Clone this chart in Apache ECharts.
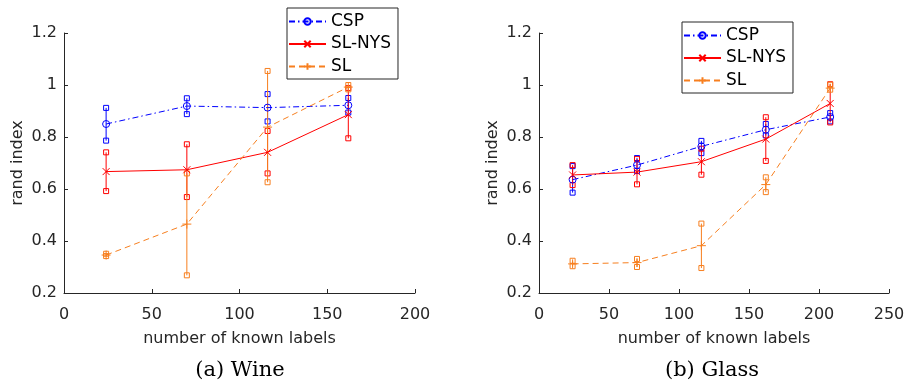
<!DOCTYPE html>
<html>
<head>
<meta charset="utf-8">
<script src="https://cdn.jsdelivr.net/npm/echarts@6/dist/echarts.min.js"></script>
<style>html,body{margin:0;padding:0;background:#fff;}#c{width:909px;height:385px;}</style>
</head>
<body>
<div id="c"></div>
<script>
// ---- Data ----
var seriesNames = ['CSP', 'SL-NYS', 'SL'];
var xTicksWine = [0, 50, 100, 150, 200];
var xTicksGlass = [0, 50, 100, 150, 200, 250];
var yTicks = [0.2, 0.4, 0.6, 0.8, 1, 1.2];

var wineX = [24, 70, 116, 162];
var wineCSP = [0.850, 0.919, 0.913, 0.922];
var wineCSPLo = [0.786, 0.888, 0.860, 0.894];
var wineCSPHi = [0.912, 0.949, 0.965, 0.950];
var wineNYS = [0.667, 0.674, 0.741, 0.886];
var wineNYSLo = [0.592, 0.569, 0.660, 0.795];
var wineNYSHi = [0.741, 0.772, 0.823, 0.988];
var wineSL = [0.346, 0.465, 0.838, 0.992];
var wineSLLo = [0.342, 0.268, 0.626, 0.983];
var wineSLHi = [0.351, 0.660, 1.054, 1.000];

var glassX = [24, 70, 116, 162, 208];
var glassCSP = [0.636, 0.692, 0.764, 0.828, 0.877];
var glassCSPLo = [0.586, 0.669, 0.738, 0.806, 0.860];
var glassCSPHi = [0.688, 0.719, 0.785, 0.850, 0.892];
var glassNYS = [0.654, 0.665, 0.705, 0.792, 0.929];
var glassNYSLo = [0.615, 0.618, 0.655, 0.708, 0.856];
var glassNYSHi = [0.692, 0.715, 0.755, 0.876, 1.003];
var glassSL = [0.312, 0.317, 0.382, 0.617, 0.988];
var glassSLLo = [0.303, 0.300, 0.296, 0.588, 0.982];
var glassSLHi = [0.324, 0.331, 0.467, 0.645, 1.001];

// ---- Styles ----
var COL = {'CSP': '#0000ff', 'SL-NYS': '#ff0000', 'SL': '#f77f1f'};
var DASH = {'CSP': [6, 3, 1.5, 3], 'SL-NYS': 'solid', 'SL': [6, 4]};
var SYM = {
  'CSP': 'path://M10,5A5,5 0 1,1 0,5A5,5 0 1,1 10,5Z',
  'SL-NYS': 'path://M0,0L10,10M10,0L0,10',
  'SL': 'path://M5,0L5,10M0,5L10,5'
};
var SYMSIZE = {'CSP': 7, 'SL-NYS': 7, 'SL': 9};
var FONT = 'DejaVu Sans';
var TXT = '#262626';

function pairs(xs, ys) { return xs.map(function (x, i) { return [x, ys[i]]; }); }
function triples(xs, lo, hi) { return xs.map(function (x, i) { return [x, lo[i], hi[i]]; }); }

function lineSeries(name, gi, xs, ys) {
  return {
    type: 'line', name: name, xAxisIndex: gi, yAxisIndex: gi,
    data: pairs(xs, ys),
    symbol: SYM[name], symbolSize: SYMSIZE[name], showSymbol: true, showAllSymbol: true,
    lineStyle: {color: COL[name], width: 1, type: DASH[name]},
    itemStyle: {color: 'rgba(255,255,255,0)', borderColor: COL[name], borderWidth: 1},
    emphasis: {disabled: true}, animation: false, z: 3
  };
}
function errSeries(name, gi, xs, lo, hi) {
  var c = COL[name];
  return {
    type: 'custom', name: name + ' err', xAxisIndex: gi, yAxisIndex: gi,
    data: triples(xs, lo, hi), animation: false, z: 2,
    encode: {x: 0, y: [1, 2]},
    renderItem: function (params, api) {
      var p1 = api.coord([api.value(0), api.value(1)]);
      var p2 = api.coord([api.value(0), api.value(2)]);
      var s = 5;
      return {
        type: 'group',
        children: [
          {type: 'line', shape: {x1: p1[0], y1: p1[1], x2: p2[0], y2: p2[1]}, style: {stroke: c, lineWidth: 1}},
          {type: 'rect', shape: {x: p1[0] - s / 2, y: p1[1] - s / 2, width: s, height: s}, style: {stroke: c, fill: 'none', lineWidth: 1}},
          {type: 'rect', shape: {x: p2[0] - s / 2, y: p2[1] - s / 2, width: s, height: s}, style: {stroke: c, fill: 'none', lineWidth: 1}}
        ]
      };
    }
  };
}

function xAxis(gi, ticks) {
  return {
    type: 'value', gridIndex: gi, min: ticks[0], max: ticks[ticks.length - 1], interval: ticks[1] - ticks[0],
    name: 'number of known labels', nameLocation: 'middle', nameGap: 38,
    nameTextStyle: {fontFamily: FONT, fontSize: 16, color: TXT},
    axisLine: {lineStyle: {color: TXT, width: 1}},
    axisTick: {inside: true, length: 4, lineStyle: {color: TXT}},
    axisLabel: {fontFamily: FONT, fontSize: 16, color: TXT, margin: 14},
    splitLine: {show: false}
  };
}
function yAxis(gi) {
  return {
    type: 'value', gridIndex: gi, min: yTicks[0], max: yTicks[yTicks.length - 1], interval: 0.2,
    name: 'rand index', nameLocation: 'middle', nameGap: 38, nameRotate: 90,
    nameTextStyle: {fontFamily: FONT, fontSize: 16, color: TXT},
    axisLine: {show: true, lineStyle: {color: TXT, width: 1}},
    axisTick: {show: true, inside: true, length: 4, lineStyle: {color: TXT}},
    axisLabel: {fontFamily: FONT, fontSize: 16, color: TXT, margin: 7},
    splitLine: {show: false}
  };
}
function legend(left, top) {
  return {
    data: seriesNames, orient: 'vertical', left: left, top: top,
    itemWidth: 37, itemHeight: 8, itemGap: 5.5,
    padding: [5, 7, 4, 1],
    borderColor: TXT, borderWidth: 1, backgroundColor: '#fff',
    textStyle: {fontFamily: FONT, fontSize: 17, color: '#000'},
    selectedMode: false
  };
}

var series = [];
[['CSP', wineCSP, wineCSPLo, wineCSPHi], ['SL-NYS', wineNYS, wineNYSLo, wineNYSHi], ['SL', wineSL, wineSLLo, wineSLHi]].forEach(function (d) {
  series.push(errSeries(d[0], 0, wineX, d[2], d[3]));
  series.push(lineSeries(d[0], 0, wineX, d[1]));
});
[['CSP', glassCSP, glassCSPLo, glassCSPHi], ['SL-NYS', glassNYS, glassNYSLo, glassNYSHi], ['SL', glassSL, glassSLLo, glassSLHi]].forEach(function (d) {
  series.push(errSeries(d[0], 1, glassX, d[2], d[3]));
  series.push(lineSeries(d[0], 1, glassX, d[1]));
});

var chart = echarts.init(document.getElementById('c'), null, {renderer: 'canvas'});
chart.setOption({
  animation: false,
  backgroundColor: '#fff',
  grid: [
    {left: 64, top: 33, width: 351, height: 260},
    {left: 539, top: 33, width: 350, height: 260}
  ],
  xAxis: [xAxis(0, xTicksWine), xAxis(1, xTicksGlass)],
  yAxis: [yAxis(0), yAxis(1)],
  legend: [legend(287, 8), legend(682, 22)],
  title: [
    {text: '(a) Wine', left: 240, top: 360, textAlign: 'center', padding: 0,
     textStyle: {fontFamily: 'DejaVu Serif', fontSize: 21, fontWeight: 'normal', color: '#000'}},
    {text: '(b) Glass', left: 712, top: 360, textAlign: 'center', padding: 0,
     textStyle: {fontFamily: 'DejaVu Serif', fontSize: 21, fontWeight: 'normal', color: '#000'}}
  ],
  series: series
});
</script>
</body>
</html>
